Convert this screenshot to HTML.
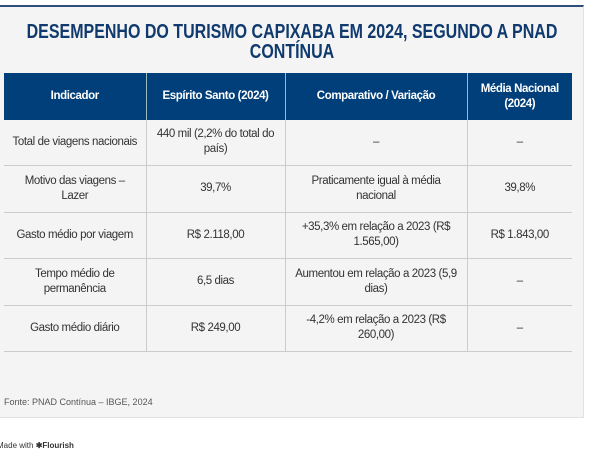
<!DOCTYPE html>
<html><head><meta charset="utf-8"><style>
*{margin:0;padding:0;box-sizing:border-box}
body{width:600px;height:455px;background:#fff;position:relative;overflow:hidden;font-family:"Liberation Sans",sans-serif;color:#333}
.panel{position:absolute;left:0;top:5px;width:584px;height:413px;background:#f4f4f4;border-top:2px solid #2f4f7a;border-right:1px solid #e2e2e2;border-bottom:1px solid #e2e2e2}
h1{position:absolute;left:-60px;width:704px;top:22px;text-align:center;font-size:20px;line-height:20px;color:#103a6e;font-weight:bold;white-space:nowrap;transform:scaleX(0.8);transform-origin:center}
table{position:absolute;left:4px;top:73px;width:568px;border-collapse:collapse;font-size:11.5px;letter-spacing:-0.4px}
th{background:#003f7a;color:#fff;font-weight:bold;height:47px;line-height:15px;border-left:1px solid #9bb;padding:0 4px;white-space:nowrap}
th:first-child{border-left:none}
td{text-align:center;border-left:1px solid #ccc;border-bottom:1px solid #ccc;line-height:15px;padding:0 2px;color:#333;white-space:nowrap}
td:first-child{border-left:none}
.src{position:absolute;left:4px;top:397px;font-size:9px;color:#555}
.made{position:absolute;left:-3px;top:441px;font-size:8px;color:#333}
</style></head><body>
<div class="panel"></div>
<h1>DESEMPENHO DO TURISMO CAPIXABA EM 2024, SEGUNDO A PNAD<br>CONTÍNUA</h1>
<table>
<colgroup><col style="width:142px"><col style="width:139px"><col style="width:182px"><col style="width:105px"></colgroup>
<tr><th>Indicador</th><th>Espírito Santo (2024)</th><th>Comparativo / Variação</th><th>Média Nacional<br>(2024)</th></tr>
<tr style="height:45px"><td>Total de viagens nacionais</td><td>440 mil (2,2% do total do<br>país)</td><td>–</td><td>–</td></tr>
<tr style="height:47px"><td>Motivo das viagens –<br>Lazer</td><td>39,7%</td><td>Praticamente igual à média<br>nacional</td><td>39,8%</td></tr>
<tr style="height:46px"><td>Gasto médio por viagem</td><td>R$ 2.118,00</td><td>+35,3% em relação a 2023 (R$<br>1.565,00)</td><td>R$ 1.843,00</td></tr>
<tr style="height:47px"><td>Tempo médio de<br>permanência</td><td>6,5 dias</td><td>Aumentou em relação a 2023 (5,9<br>dias)</td><td>–</td></tr>
<tr style="height:46px"><td>Gasto médio diário</td><td>R$ 249,00</td><td>-4,2% em relação a 2023 (R$<br>260,00)</td><td>–</td></tr>
</table>
<div class="src">Fonte: PNAD Contínua – IBGE, 2024</div>
<div class="made">Made with <b>✱Flourish</b></div>
</body></html>
